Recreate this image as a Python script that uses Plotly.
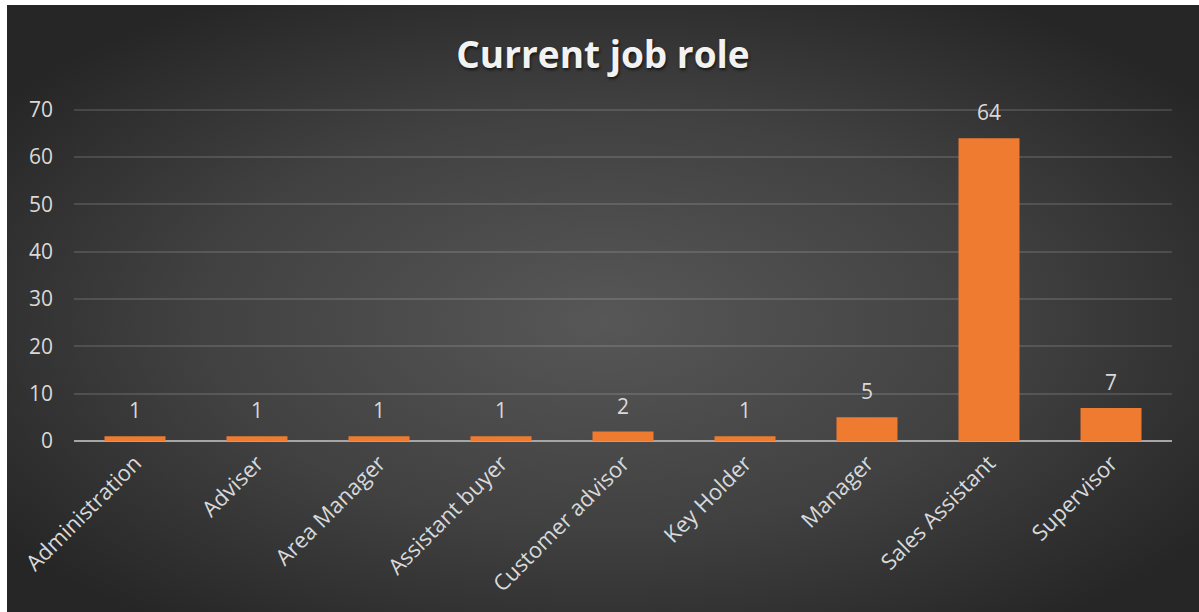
import base64
import plotly.graph_objects as go

# Survey responses: current job role
roles = ["Administration", "Adviser", "Area Manager", "Assistant buyer",
         "Customer advisor", "Key Holder", "Manager", "Sales Assistant", "Supervisor"]
counts = [1, 1, 1, 1, 2, 1, 5, 64, 7]
y_ticks = [0, 10, 20, 30, 40, 50, 60, 70]

W, H = 1199, 612
Y_MAX = 70.8
L, R, B = 74, 27, 171
T = 110 - round((Y_MAX - 70) * 331 / 70)
pw, ph = W - L - R, H - T - B
FONT = "Open Sans, Noto Sans, sans-serif"
LABEL = "#D9D9D9"

# Dark radial backdrop as an SVG image
svg = (
    '<svg xmlns="http://www.w3.org/2000/svg" width="1192" height="607" viewBox="0 0 1192 607" preserveAspectRatio="none">'
    '<defs><radialGradient id="g" cx="50%" cy="52%" r="62%" fx="50%" fy="52%">'
    '<stop offset="0%" stop-color="#575757"/>'
    '<stop offset="55%" stop-color="#414141"/>'
    '<stop offset="100%" stop-color="#262626"/>'
    '</radialGradient></defs>'
    '<rect width="1192" height="607" fill="url(#g)"/></svg>'
)
bg_src = "data:image/svg+xml;base64," + base64.b64encode(svg.encode()).decode()

fig = go.Figure(go.Bar(
    x=roles,
    y=counts,
    width=0.5,
    marker=dict(color="#EF7B30", line=dict(width=0)),
    cliponaxis=False,
))

# Value labels above each bar
for role, c in zip(roles, counts):
    fig.add_annotation(
        x=role, y=c, text=str(c), showarrow=False,
        yanchor="bottom", yshift=10,
        font=dict(family=FONT, size=21, color=LABEL),
    )

fig.update_layout(
    width=W, height=H,
    margin=dict(l=L, r=R, t=T, b=B),
    paper_bgcolor="white",
    plot_bgcolor="rgba(0,0,0,0)",
    showlegend=False,
    bargap=0.5,
    title=dict(
        text="<b>Current job role</b>",
        x=603 / W, xref="container", xanchor="center",
        y=1 - 55 / H, yref="container", yanchor="middle",
        font=dict(family=FONT, size=37, color="#F2F2F2",
                  shadow="1px 2px 3px rgba(0,0,0,0.6)"),
    ),
    images=[dict(
        source=bg_src, xref="paper", yref="paper",
        x=(7 - L) / pw, y=(H - B - 5) / ph,
        sizex=(W - 7) / pw, sizey=(H - 5) / ph,
        xanchor="left", yanchor="top", sizing="stretch", layer="below",
    )],
    xaxis=dict(
        tickangle=-45,
        tickfont=dict(family=FONT, size=22, color=LABEL),
        showgrid=False, zeroline=False, showline=False, ticks="",
        ticklabelstandoff=4,
    ),
    yaxis=dict(
        range=[0, Y_MAX],
        tickvals=y_ticks,
        tickfont=dict(family=FONT, size=21, color=LABEL),
        showgrid=True, gridcolor="rgba(255,255,255,0.13)", gridwidth=1.5,
        zeroline=True, zerolinecolor="#A6A6A6", zerolinewidth=2,
        showline=False, ticks="", ticklabelstandoff=20,
    ),
)

fig.write_html("out.html")
